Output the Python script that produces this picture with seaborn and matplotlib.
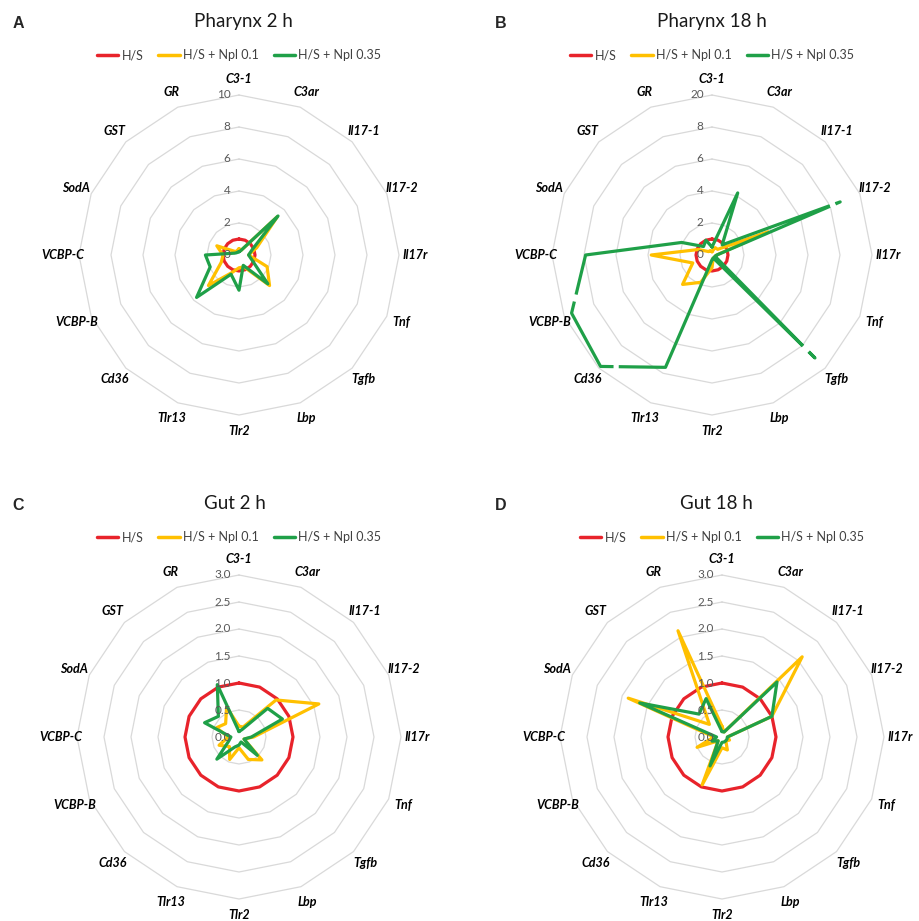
import numpy as np
import pandas as pd
import matplotlib.pyplot as plt
import seaborn as sns

sns.set_style("white")
plt.rcParams['font.family'] = ['Lato', 'DejaVu Sans']

# categorias (sentido horario a partir do topo)
genes = ["C3-1", "C3ar", "Il17-1", "Il17-2", "Il17r", "Tnf", "Tgfb", "Lbp",
         "Tlr2", "Tlr13", "Cd36", "VCBP-B", "VCBP-C", "SodA", "GST", "GR"]
series = ["H/S", "H/S + Npl 0.1", "H/S + Npl 0.35"]
cores = ["#e8232b", "#ffc000", "#1fa048"]

hs = [1.0] * 16

# Pharynx 2 h
phar2_npl01 = [0.4, 0.3, 3.4, 1.2, 0.6, 1.9, 2.7, 0.8, 0.8, 1.2, 2.7, 1.2, 1.0, 1.5, 0.3, 0.3]
phar2_npl035 = [0.2, 0.3, 3.45, 0.9, 0.6, 0.9, 2.55, 0.7, 2.2, 1.3, 3.75, 1.95, 2.1, 0.3, 0.2, 0.2]

# Pharynx 18 h (escala quebrada: anel externo = "20")
phar18_npl01 = [0.2, 0.5, 0.5, 3.8, 0.3, 0.2, 0.3, 0.2, 0.8, 1.85, 2.6, 1.3, 3.8, 0.9, 0.3, 0.3]
phar18_npl035 = [0.5, 4.2, 0.9, 8.67, 0.3, 0.2, 9.1, 0.2, 0.3, 7.6, 9.85, 9.5, 7.9, 2.05, 0.75, 1.0]

# Gut 2 h
gut2_npl01 = [0.2, 0.2, 0.97, 1.6, 0.27, 0.1, 0.6, 0.45, 0.2, 0.45, 0.25, 0.4, 0.2, 0.45, 0.35, 0.6]
gut2_npl035 = [0.1, 0.15, 0.75, 0.87, 0.23, 0.1, 0.48, 0.1, 0.15, 0.2, 0.58, 0.21, 0.15, 0.69, 0.54, 1.05]

# Gut 18 h
gut18_npl01 = [0.2, 0.1, 2.1, 1.0, 0.1, 0.15, 0.1, 0.26, 0.2, 0.96, 0.1, 0.5, 0.15, 1.88, 0.33, 2.13]
gut18_npl035 = [0.1, 0.1, 1.44, 1.0, 0.1, 0.1, 0.1, 0.1, 0.1, 0.58, 0.1, 0.2, 0.1, 1.65, 0.6, 0.77]

ticks_phar = [0, 2, 4, 6, 8, 10]
ticks_phar2_lab = ["0", "2", "4", "6", "8", "10"]
ticks_phar18_lab = ["0", "2", "4", "6", "8", "20"]
ticks_gut = [0, 0.5, 1.0, 1.5, 2.0, 2.5, 3.0]
ticks_gut_lab = ["0.0", "0.5", "1.0", "1.5", "2.0", "2.5", "3.0"]

W, H = 919, 921
fig = plt.figure(figsize=(W / 100, H / 100), dpi=100)

ang = 2 * np.pi * np.arange(len(genes)) / len(genes)


def xy(vals):
    v = np.append(vals, vals[0])
    a = np.append(ang, ang[0])
    return v * np.sin(a), v * np.cos(a)


def radar(cx, cy, raio_px, ticks, labels, dados, gaps=()):
    meio = 180
    ax = fig.add_axes([(cx - meio) / W, (H - cy - meio) / H, 2 * meio / W, 2 * meio / H])
    vmax = ticks[-1]
    lim = vmax * meio / raio_px
    ax.set_xlim(-lim, lim)
    ax.set_ylim(-lim, lim)
    ax.axis("off")

    # aneis poligonais
    for t in ticks[1:]:
        gx, gy = xy([t] * len(genes))
        ax.plot(gx, gy, color="#d9d9d9", lw=0.9, zorder=0)

    linhas = []
    for nome, vals in zip(series, dados):
        x, y = xy(np.array(vals))
        linhas.append(pd.DataFrame({"x": x, "y": y, "serie": nome, "ordem": range(len(x))}))
    df = pd.concat(linhas)
    sns.lineplot(data=df, x="x", y="y", hue="serie", palette=cores, sort=False,
                 estimator=None, units="serie", lw=2.3, ax=ax, zorder=3)

    # quebras da escala (tracos em branco)
    if gaps:
        x, y = xy(np.array(dados[2]))
        for i, t0, t1 in gaps:
            px = [x[i] + t * (x[i + 1] - x[i]) for t in (t0, t1)]
            py = [y[i] + t * (y[i + 1] - y[i]) for t in (t0, t1)]
            ax.plot(px, py, color="white", lw=4, solid_capstyle="butt", zorder=4)

    for t, lab in zip(ticks, labels):
        ax.annotate(lab, (0, t), xytext=(-6, 0), textcoords="offset points",
                    ha="right", va="center", color="#595959", fontsize=8.5, zorder=5)

    for a, g in zip(ang, genes):
        ax.text(1.1 * vmax * np.sin(a), 1.1 * vmax * np.cos(a), g, ha="center", va="center",
                fontsize=9, fontweight="bold", fontstyle="italic", color="black")

    sns.move_legend(ax, "center", bbox_to_anchor=(0.5, 0.5 + 200 / (2 * meio)), ncol=3,
                    frameon=False, title=None, handlelength=1.7, handletextpad=0.25,
                    columnspacing=1.2, fontsize=9, labelcolor="#404040")
    for l in ax.get_legend().get_lines():
        l.set_linewidth(2.5)
    return ax


radar(239, 255, 160, ticks_phar, ticks_phar2_lab, [hs, phar2_npl01, phar2_npl035])
radar(712, 255, 160, ticks_phar, ticks_phar18_lab, [hs, phar18_npl01, phar18_npl035],
      gaps=[(2, 0.914, 0.957), (3, 0.039, 0.08), (5, 0.883, 0.936), (6, 0.064, 0.117),
            (11, 0.2, 0.32), (9, 0.72, 0.8)])
radar(239, 737, 162, ticks_gut, ticks_gut_lab, [hs, gut2_npl01, gut2_npl035])
radar(722, 737, 162, ticks_gut, ticks_gut_lab, [hs, gut18_npl01, gut18_npl035])

titulos = [("Pharynx 2 h", 243, 22), ("Pharynx 18 h", 712, 22),
           ("Gut 2 h", 235, 503), ("Gut 18 h", 716, 503)]
for txt, x, y in titulos:
    fig.text(x / W, 1 - y / H, txt, ha="center", va="center", fontsize=13.5, color="#1a1a1a")

for letra, x, y in [("A", 18, 23), ("B", 501, 23), ("C", 18, 505), ("D", 501, 505)]:
    fig.text(x / W, 1 - y / H, letra, ha="center", va="center", fontsize=11.5,
             fontweight="bold", family="Liberation Sans")

plt.savefig("out.png", dpi=100)
